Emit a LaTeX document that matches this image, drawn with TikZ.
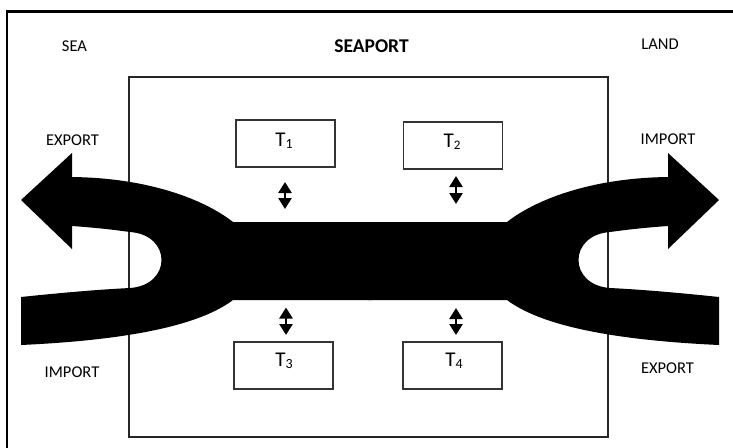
\documentclass[tikz,border=0pt]{standalone}
\usepackage{fontspec}
\setmainfont{Carlito}
\usetikzlibrary{arrows.meta}
\begin{document}
\begin{tikzpicture}[x=1pt,y=-1pt,
  lbl/.style={inner sep=0pt,font=\fontsize{16.5}{18}\selectfont},
  tbox/.style={draw=black!80,line width=1.2pt,minimum width=99pt,minimum height=47pt,inner sep=0pt},
  tlbl/.style={inner sep=0pt,font=\fontsize{21}{22}\selectfont},
  dbl/.style={line width=2.5pt,{Triangle[length=11pt,width=13pt]}-{Triangle[length=11pt,width=13pt]}}]
\useasboundingbox (0,0) rectangle (733,447);
\fill[white] (0,0) rectangle (733,447);
% outer frame (only left and top edges visible)
\draw[line width=2.5pt] (7,470) -- (7,11.5) -- (760,11.5);
% seaport box
\draw[black!85,line width=1.3pt] (129,77) rectangle (608,437);
% big flow shape
\def\halfshape{(372,222) -- (233,222) .. controls (205,200) and (150,178) .. (72,177)
  -- (72,153) -- (21,200) -- (72,249) -- (72,226)
  .. controls (100,228) and (115,230) .. (130,232)
  .. controls (172,235) and (172,285) .. (130,288)
  .. controls (90,290) and (50,294) .. (21,297)
  -- (21,345) .. controls (130,340) and (200,325) .. (233,300)
  -- (372,300) -- cycle}
\fill[black] \halfshape;
\begin{scope}[xshift=740pt,xscale=-1]
\fill[black] \halfshape;
\end{scope}
% texts
\node[lbl] (sea) at (74.5,46) {SEA};
\node[inner sep=0pt,font=\fontsize{19.5}{21}\selectfont\bfseries] (seaport) at (371.5,46.5) {SEAPORT};
\node[lbl] (land) at (660,44) {LAND};
\node[lbl] (expL) at (72.5,140) {EXPORT};
\node[lbl] (impL) at (72,372) {IMPORT};
\node[lbl] (impR) at (668,139) {IMPORT};
\node[lbl] (expR) at (667.5,368) {EXPORT};
% terminal boxes
\node[tbox] (t1) at (285.5,143.5) {};
\node[tbox] (t2) at (453,145.5) {};
\node[tbox] (t3) at (283.5,365.5) {};
\node[tbox] (t4) at (452.5,365.5) {};
\node[tlbl] (t1l) at (284,140.5) {T\raisebox{-2pt}{\fontsize{14}{14}\selectfont 1}};
\node[tlbl] (t2l) at (452,142) {T\raisebox{-2pt}{\fontsize{13}{13}\selectfont 2}};
\node[tlbl] (t3l) at (284,360.5) {T\raisebox{-2pt}{\fontsize{14}{14}\selectfont 3}};
\node[tlbl] (t4l) at (454,361) {T\raisebox{-2pt}{\fontsize{14}{14}\selectfont 4}};
% double arrows
\coordinate (a1t) at (285,182); \coordinate (a1b) at (285,209);
\coordinate (a2t) at (456,176); \coordinate (a2b) at (456,204);
\coordinate (a3t) at (286,307.5); \coordinate (a3b) at (286,335);
\coordinate (a4t) at (456,308); \coordinate (a4b) at (456,335);
\draw[dbl] (a1t) -- (a1b);
\draw[dbl] (a2t) -- (a2b);
\draw[dbl] (a3t) -- (a3b);
\draw[dbl] (a4t) -- (a4b);
\end{tikzpicture}
\end{document}
